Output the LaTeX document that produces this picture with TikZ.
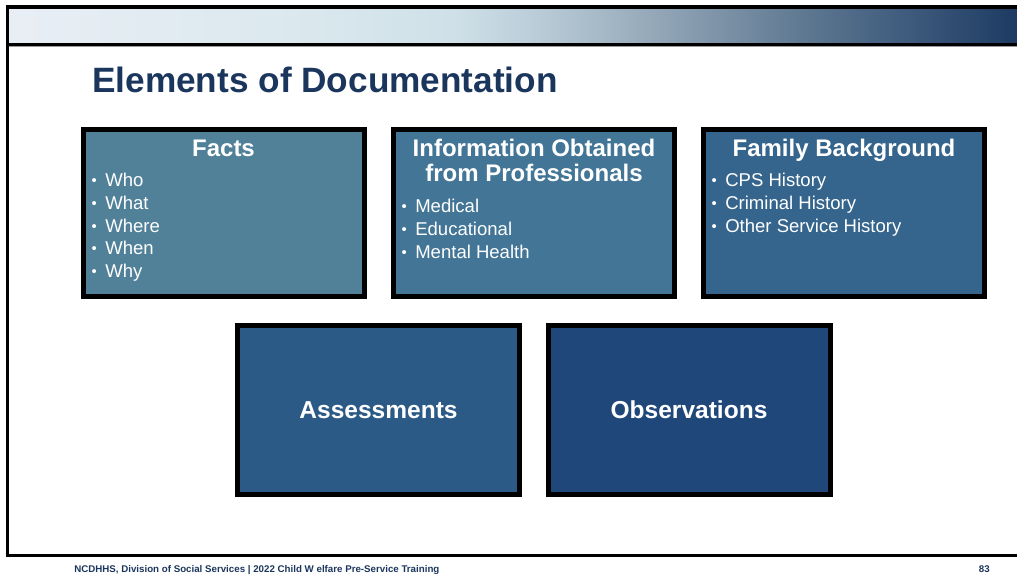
\documentclass[tikz,border=0pt]{standalone}
\usepackage{fontspec}
\setmainfont{Liberation Sans}
\definecolor{g0}{HTML}{E9EEF5}
\definecolor{g1}{HTML}{DAE8EE}
\definecolor{g2}{HTML}{CFE0E8}
\definecolor{g3}{HTML}{BDD0DB}
\definecolor{g4}{HTML}{A5B8C6}
\definecolor{g5}{HTML}{8297AB}
\definecolor{g6}{HTML}{5E7891}
\definecolor{g7}{HTML}{3F5B7D}
\definecolor{g8}{HTML}{1D3B62}
\definecolor{titlec}{HTML}{1B365D}
\definecolor{cfacts}{HTML}{508199}
\definecolor{cinfo}{HTML}{427596}
\definecolor{cfam}{HTML}{35658C}
\definecolor{cass}{HTML}{2C5A86}
\definecolor{cobs}{HTML}{20477A}
\pgfdeclarehorizontalshading{hdr}{100bp}{color(0bp)=(g0); color(25bp)=(g0); color(40bp)=(g1); color(47bp)=(g2); color(50.5bp)=(g3); color(54.5bp)=(g4); color(59.5bp)=(g5); color(64.5bp)=(g6); color(69.5bp)=(g7); color(75bp)=(g8); color(100bp)=(g8)}
\newcommand{\bul}{\makebox[10.9pt][l]{\hspace{0.6pt}\raisebox{0.7pt}{\scalebox{0.8}{•}}}}
\tikzset{
  boxtop/.style={draw=black, line width=3.375pt, inner sep=0pt, anchor=north west, minimum width=210.75pt, minimum height=125.6pt},
  boxbot/.style={draw=black, line width=3.375pt, inner sep=0pt, anchor=north west, minimum width=211.5pt, minimum height=127.1pt},
  head/.style={text=white, font=\fontsize{18pt}{20pt}\selectfont\bfseries, inner sep=0pt, anchor=base},
  item/.style={text=white, font=\fontsize{13.9pt}{16pt}\selectfont, inner sep=0pt, anchor=base west},
  big/.style={text=white, font=\fontsize{18.4pt}{20pt}\selectfont\bfseries, inner sep=0pt, anchor=base},
}
\begin{document}
\begin{tikzpicture}[x=0.75pt,y=-0.75pt]
\useasboundingbox (0,0) rectangle (1017,575);
% header
\fill[shading=hdr] (9,9) rectangle (1017,43);
\fill[black] (5.5,5) rectangle (1017,9);
\fill[black] (5.5,43) rectangle (1017,46);
\fill[black!40] (8.5,46) rectangle (1017,47);
\fill[black] (5.5,5) rectangle (8.5,557);
\fill[black] (5.5,554) rectangle (1017,557);
% title
\node[anchor=base west, inner sep=0pt, text=titlec, font=\fontsize{26.4pt}{30pt}\selectfont\bfseries] (title) at (92,92) {Elements of Documentation};
% boxes
\node[boxtop, fill=cfacts] (facts) at (81,127) {};
\node[boxtop, fill=cinfo] (info) at (391,127) {};
\node[boxtop, fill=cfam] (fam) at (701,127) {};
\node[boxbot, fill=cass] (ass) at (235,323) {};
\node[boxbot, fill=cobs] (obs) at (546,323) {};
% facts
\node[head] (factsh) at (223.5,156) {Facts};
\node[item] (f1) at (90.5,186.7) {\bul Who};
\node[item] (f2) at (90.5,209.4) {\bul What};
\node[item] (f3) at (90.5,232.1) {\bul Where};
\node[item] (f4) at (90.5,254.8) {\bul When};
\node[item] (f5) at (90.5,277.5) {\bul Why};
% info
\node[head] (infoh1) at (534,156) {Information Obtained};
\node[head] (infoh2) at (534,181.7) {from Professionals};
\node[item] (i1) at (400.5,212.7) {\bul Medical};
\node[item] (i2) at (400.5,235.4) {\bul Educational};
\node[item] (i3) at (400.5,258.1) {\bul Mental Health};
% family
\node[head] (famh) at (844,156) {Family Background};
\node[item] (b1) at (710.5,186.7) {\bul CPS History};
\node[item] (b2) at (710.5,209.4) {\bul Criminal History};
\node[item] (b3) at (710.5,232.1) {\bul Other Service History};
% bottom
\node[big] (asst) at (378.5,418.5) {Assessments};
\node[big] (obst) at (689,418.5) {Observations};
% footer
\node[anchor=base west, inner sep=0pt, text=titlec, font=\fontsize{7.3pt}{8pt}\selectfont\bfseries] (foot) at (74,572) {NCDHHS, Division of Social Services | 2022 Child W elfare Pre-Service Training};
\node[anchor=base east, inner sep=0pt, text=titlec, font=\fontsize{7.3pt}{8pt}\selectfont\bfseries] (page) at (990,572) {83};
\end{tikzpicture}
\end{document}
